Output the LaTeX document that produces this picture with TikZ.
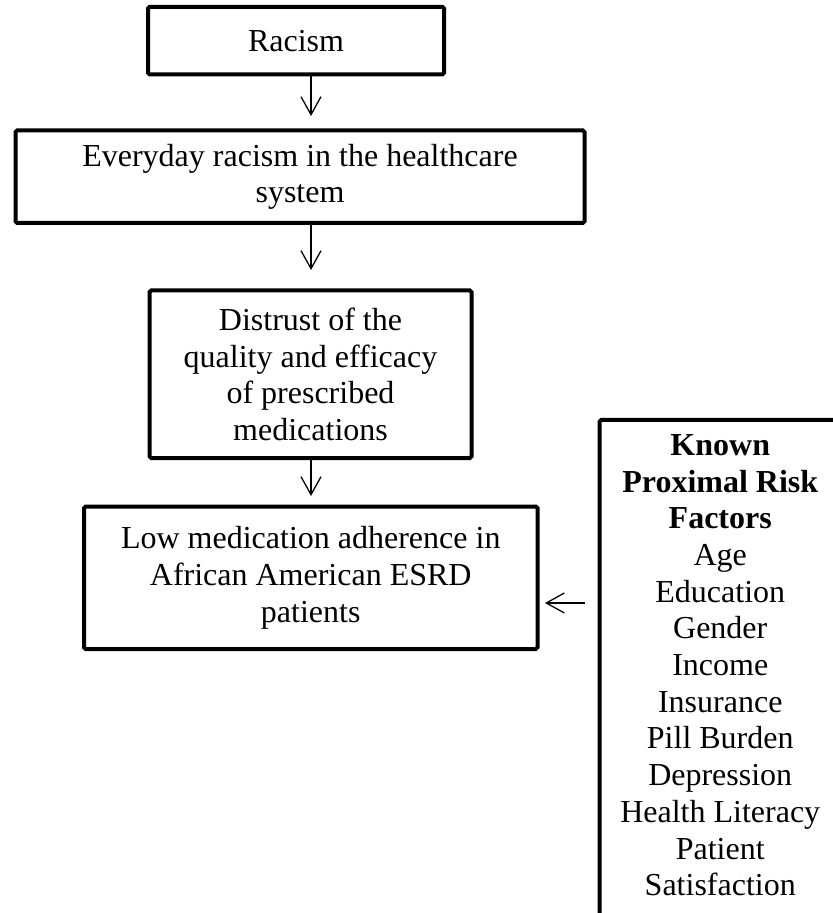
\documentclass[tikz,border=0pt]{standalone}
\usepackage{fontspec}
\setmainfont{Liberation Serif}
\usepackage{tikz}
\usetikzlibrary{arrows.meta,positioning}

\begin{document}
\begin{tikzpicture}[x=0.5pt,y=-0.5pt,
  stage/.style={draw,line width=2pt,rounded corners=0.8pt,align=center,inner sep=0pt,
    font=\fontsize{16}{18.35}\selectfont},
  flow/.style={line width=0.65pt,-{Straight Barb[length=9pt,width=10pt]}}]
\useasboundingbox (0,0) rectangle (832,913);
\node[stage,minimum width=148pt,minimum height=33.75pt] (racism) at (296,40.7) {Racism};
\node[stage,minimum width=284.5pt,minimum height=46.25pt] (everyday) at (300,176.75) {Everyday racism in the healthcare\\system};
\node[stage,minimum width=161pt,minimum height=83.75pt] (distrust) at (310.5,374.25) {Distrust of the\\quality and efficacy\\of prescribed\\medications};
\node[stage,minimum width=226.75pt,minimum height=71.25pt] (lowadh) at (310.75,577.75) {Low medication adherence in\\African American ESRD\\patients};
\node[stage,minimum width=120.75pt,minimum height=260pt,anchor=north west] (risk) at (597.5,418) {};
\node[align=center,inner sep=0pt,font=\fontsize{16}{18.35}\selectfont,below=8pt of risk.north] (factors)
  {\textbf{Known}\\\textbf{Proximal Risk}\\\textbf{Factors}\\Age\\Education\\Gender\\Income\\Insurance\\Pill Burden\\Depression\\Health Literacy\\Patient\\Satisfaction};
\coordinate (spine) at (311,0);
\coordinate (bridge) at (0,603);
\draw[flow,shorten >=6.25pt] (racism.south -| spine) -- (everyday.north -| spine);
\draw[flow,shorten >=9.25pt] (everyday.south -| spine) -- (distrust.north -| spine);
\draw[flow,shorten >=4.25pt] (distrust.south -| spine) -- (lowadh.north -| spine);
\draw[flow,shorten <=6.25pt,shorten >=2.75pt] (risk.west |- bridge) -- (lowadh.east |- bridge);
\end{tikzpicture}
\end{document}
